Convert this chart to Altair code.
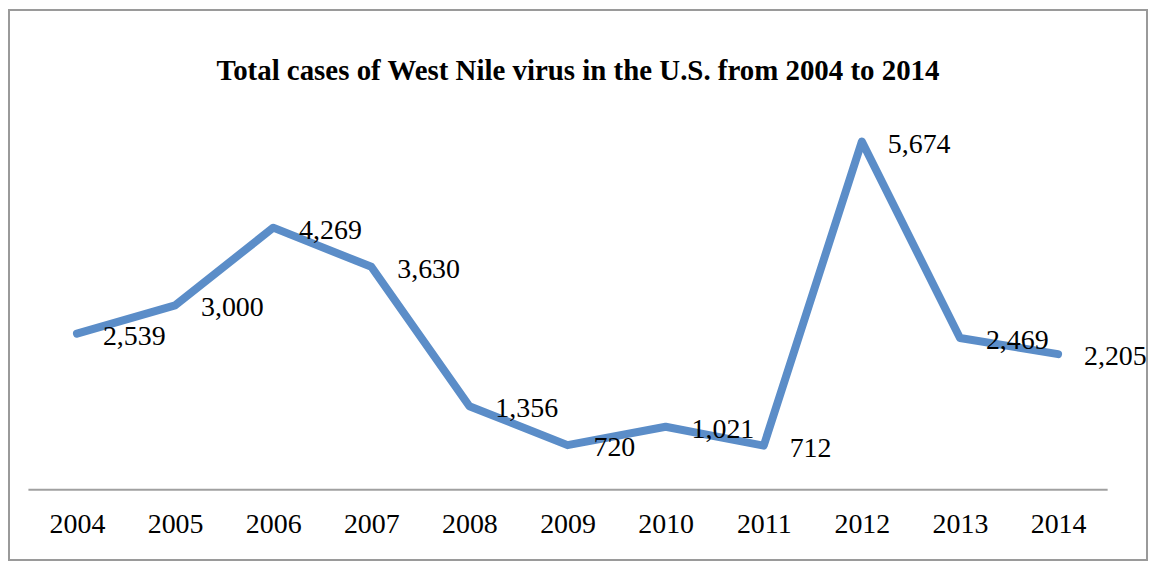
import altair as alt
import pandas as pd

years = ["2004", "2005", "2006", "2007", "2008", "2009", "2010", "2011", "2012", "2013", "2014"]
cases = [2539, 3000, 4269, 3630, 1356, 720, 1021, 712, 5674, 2469, 2205]
title_text = "Total cases of West Nile virus in the U.S. from 2004 to 2014"

df = pd.DataFrame({"year": years, "cases": cases})

FONT = "Liberation Serif"
W, H = 1083, 369

x = alt.X("year:O", sort=years,
          scale=alt.Scale(type="point", padding=0.5),
          axis=alt.Axis(title=None, ticks=False, grid=False, labelAngle=0,
                        labelFont=FONT, labelFontSize=28, labelColor="#000000",
                        labelPadding=21, domainColor="#A0A0A0", domainWidth=2))
y = alt.Y("cases:Q", scale=alt.Scale(domain=[0, 6000]), axis=None)

base = alt.Chart(df)

line = base.mark_line(color="#5B8DC8", strokeWidth=8, strokeCap="round",
                      strokeJoin="round").encode(x=x, y=y)

labels = base.mark_text(align="left", baseline="middle", dx=26, dy=3,
                        font=FONT, fontSize=28, color="#000000").encode(
    x=x, y=y, text=alt.Text("cases:Q", format=","))

single = alt.Chart(pd.DataFrame({"t": [title_text]}))

frame = single.mark_rect(
    fill=None, stroke="#9A9A9A", strokeWidth=2).encode(
    x=alt.value(-19), x2=alt.value(1123), y=alt.value(-112), y2=alt.value(440))

title = single.mark_text(
    align="center", baseline="alphabetic", font=FONT, fontSize=29,
    fontWeight="bold", color="#000000").encode(
    x=alt.value(552), y=alt.value(-42), text="t:N")

chart = alt.layer(frame, line, labels, title).properties(
    width=W, height=H,
    autosize=alt.AutoSizeParams(type="none"),
    padding={"left": 20, "top": 113, "right": 41, "bottom": 73},
).configure_view(stroke=None)

chart.save("out.html", embed_options={"renderer": "svg", "actions": False})
